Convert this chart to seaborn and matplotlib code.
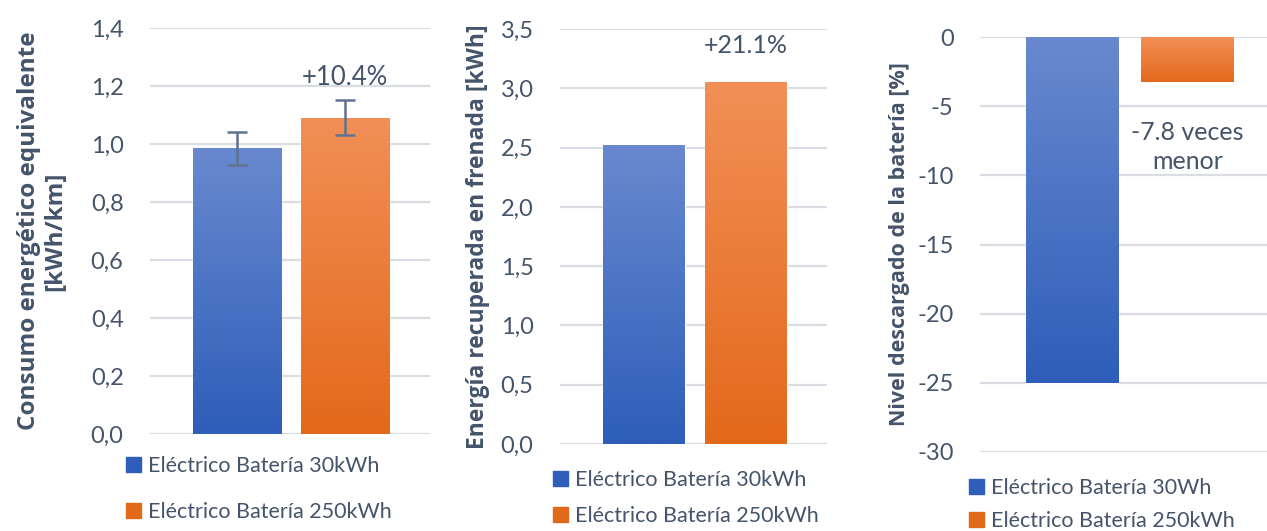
import matplotlib
matplotlib.use('Agg')
import matplotlib.pyplot as plt
import matplotlib.patches as mpatches
from matplotlib.colors import LinearSegmentedColormap
import matplotlib.ticker as ticker
import numpy as np
import pandas as pd
import seaborn as sns

# data
series = ["Eléctrico Batería 30kWh", "Eléctrico Batería 250kWh"]
series_p3 = ["Eléctrico Batería 30Wh", "Eléctrico Batería 250kWh"]
consumo = [0.985, 1.09]
consumo_err = [0.058, 0.06]
energia_rec = [2.52, 3.05]
nivel_desc = [-25.0, -3.25]
notes = ["+10.4%", "+21.1%", "-7.8 veces\nmenor"]
ylabels = ["Consumo energético equivalente\n[kWh/km]",
           "Energía recuperada en frenada [kWh]",
           "Nivel descargado de la batería [%]"]

TEXT = "#44546A"
BLUE = ("#6889cf", "#2e5eb9")
ORANGE = ("#f28f57", "#e3691a")

sns.set_theme(style="white")
plt.rcParams['font.family'] = ['Lato', 'DejaVu Sans']


def gradient_bars(ax):
    # excel style vertical gradient, lighter on the side of zero
    for patch, (c_top, c_bot) in zip(ax.patches, [BLUE, ORANGE]):
        x, y = patch.get_x(), patch.get_y()
        w, h = patch.get_width(), patch.get_height()
        y0, y1 = min(y, y + h), max(y, y + h)
        cmap = LinearSegmentedColormap.from_list("g", [c_top, c_bot])
        grad = np.linspace(0, 1, 256).reshape(-1, 1)
        im = ax.imshow(grad, cmap=cmap, aspect="auto", origin="upper",
                       extent=[x, x + w, y0, y1], zorder=patch.get_zorder() + 0.1)
        im.set_clip_path(patch)


def bar_panel(ax, labels, values, ylim, step, fmt, width):
    df = pd.DataFrame({"serie": labels, "valor": values})
    sns.barplot(data=df, x="serie", y="valor", hue="serie",
                palette=[BLUE[1], ORANGE[1]], width=width, ax=ax,
                legend=False, zorder=2)
    gradient_bars(ax)
    ax.set_ylim(*ylim)
    ax.yaxis.set_major_locator(ticker.MultipleLocator(step))
    ax.yaxis.set_major_formatter(ticker.FuncFormatter(fmt))
    ax.grid(axis="y", color="#d9dde3", linewidth=1.6, zorder=0)
    ax.set_axisbelow(True)
    ax.set_xticks([])
    ax.set_xlabel("")
    for s in ax.spines.values():
        s.set_visible(False)
    ax.tick_params(axis="y", length=0, pad=19, labelsize=17, labelcolor=TEXT)


comma = lambda v, _: f"{v:.1f}".replace(".", ",")
integer = lambda v, _: f"{v:.0f}"

fig = plt.figure(figsize=(12.67, 5.31), dpi=100)
ax1 = fig.add_axes([150 / 1267, 1 - 434 / 531, 280 / 1267, 406 / 531])
ax2 = fig.add_axes([560 / 1267, 1 - 444 / 531, 267 / 1267, 415 / 531])
ax3 = fig.add_axes([980 / 1267, 1 - 452 / 531, 287 / 1267, 415 / 531])

bar_panel(ax1, series, consumo, (0, 1.4), 0.2, comma, 0.815)
ax1.set_xlim(-0.806, 1.787)
ax1.errorbar([0, 1], consumo, yerr=consumo_err, fmt="none", ecolor="#5f7391",
             elinewidth=1.8, capsize=7, capthick=1.8, zorder=5)
ax1.text(1, 1.228, notes[0], ha="center", va="center", fontsize=18.5, color=TEXT)

bar_panel(ax2, series, energia_rec, (0, 3.5), 0.5, comma, 0.80)
ax2.set_xlim(-0.82, 1.79)
ax2.text(1, 3.36, notes[1], ha="center", va="center", fontsize=18, color=TEXT)

bar_panel(ax3, series_p3, nivel_desc, (-30, 0), 5, integer, 0.80)
ax3.set_xlim(-0.80, 1.69)
ax3.text(1, -7.95, notes[2], ha="center", va="center", fontsize=18,
         color=TEXT, linespacing=1.3)

label_x = [-0.386, -0.307, -0.279]
label_size = [17.5, 16.5, 15.5]
for ax, lab, lx, ls in zip([ax1, ax2, ax3], ylabels, label_x, label_size):
    ax.set_ylabel(lab, fontsize=ls, fontweight="bold", color=TEXT,
                  linespacing=1.1, family=["Open Sans", "DejaVu Sans"])
    ax.yaxis.label.set_va("center")
    ax.yaxis.set_label_coords(lx, 0.5)

# legends under each panel
legend_spec = [(series, 126, 456, 1.2), (series, 553, 470, 0.75), (series_p3, 969, 478, 0.62)]
for labels, lx, ly, spacing in legend_spec:
    handles = [mpatches.Patch(color=BLUE[1]), mpatches.Patch(color=ORANGE[1])]
    leg = fig.legend(handles, labels, loc="upper left",
                     bbox_to_anchor=(lx / 1267, 1 - ly / 531), frameon=False,
                     handlelength=0.7, handleheight=0.7, handletextpad=0.3,
                     labelspacing=spacing, fontsize=15.5, borderpad=0, borderaxespad=0)
    for t in leg.get_texts():
        t.set_color(TEXT)

fig.savefig("out.png", dpi=100)
